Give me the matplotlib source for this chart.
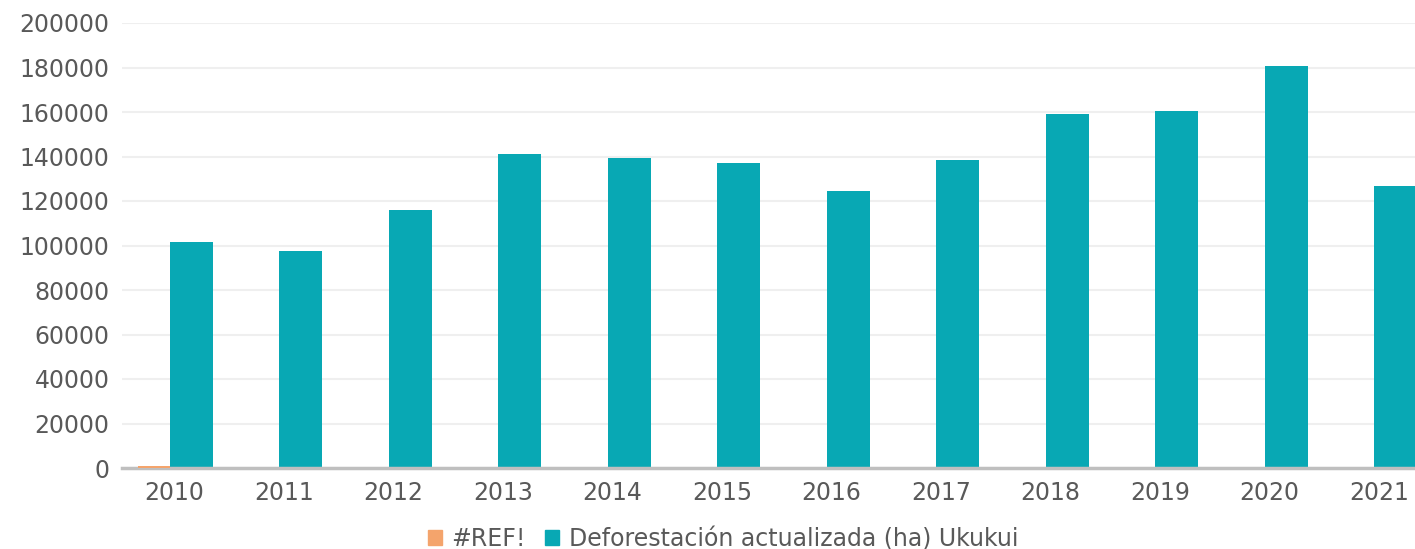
import numpy as np
import matplotlib.pyplot as plt
from matplotlib.patches import Patch

# datos
years = ['2010', '2011', '2012', '2013', '2014', '2015',
         '2016', '2017', '2018', '2019', '2020', '2021']
ref_vals = [700, 0, 0, 0, 0, 0, 0, 0, 0, 0, 0, 0]
defor_vals = [101600, 97500, 116000, 141100, 139300, 137100,
              124500, 138400, 159100, 160400, 180700, 126700]

teal = '#08A8B4'
orange = '#F4A46C'
txt = '#595959'

plt.rcParams['font.family'] = ['DejaVu Sans']

fig = plt.figure(figsize=(14.15, 5.49), dpi=100)
ax = fig.add_axes([122 / 1415, 1 - 468 / 549, 1 - 122 / 1415, (468 - 23) / 549])

x = np.arange(len(years))
w = 0.39
ax.bar(x - w / 2 + 0.05, ref_vals, width=w - 0.1, color=orange, zorder=5)
ax.bar(x + w / 2, defor_vals, width=w, color=teal, zorder=3)

ax.set_xlim(-0.438, 11.37)
ax.set_ylim(0, 200000)
ax.set_yticks(np.arange(0, 200001, 20000))
ax.set_xticks(x + 0.04)
ax.set_xticklabels(years)
ax.tick_params(axis='both', length=0, labelsize=17, labelcolor=txt)
ax.tick_params(axis='x', pad=9)
ax.tick_params(axis='y', pad=9)

ax.grid(axis='y', color='#EFEFEF', lw=1.5, zorder=0)
for s in ['top', 'right', 'left']:
    ax.spines[s].set_visible(False)
ax.spines['bottom'].set_color('#BFBFBF')
ax.spines['bottom'].set_linewidth(2.5)
ax.spines['bottom'].set_zorder(4)

handles = [Patch(color=orange, label='#REF!'),
           Patch(color=teal, label='Deforestación actualizada (ha) Ukukui')]
leg = fig.legend(handles=handles, loc='center', bbox_to_anchor=(0.511, 0.018),
                 ncol=2, frameon=False, fontsize=17, handlelength=0.6,
                 handleheight=0.6, handletextpad=0.4, columnspacing=0.8)
for t in leg.get_texts():
    t.set_color(txt)

fig.savefig('out.png', dpi=100)
